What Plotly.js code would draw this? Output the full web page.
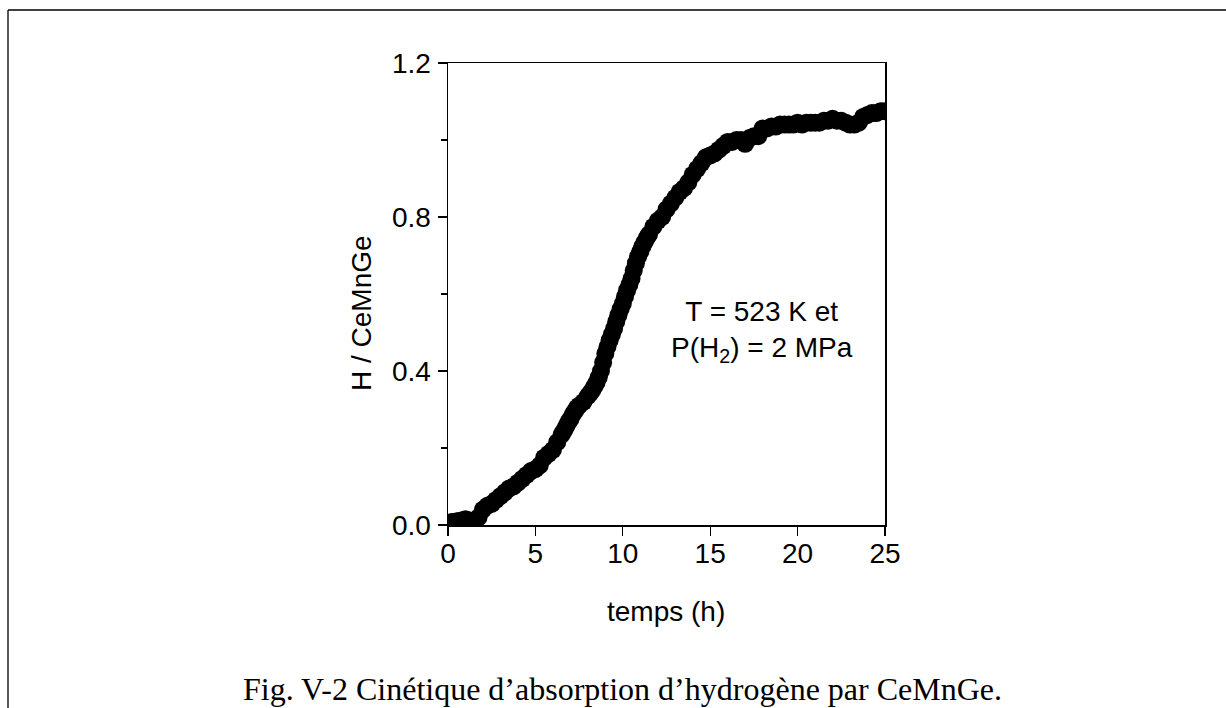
<!DOCTYPE html>
<html>
<head>
<meta charset="utf-8">
<script src="https://cdn.plot.ly/plotly-3.0.1.min.js"></script>
<style>
html,body{margin:0;padding:0;background:#fff;overflow:hidden;}
#chart{width:1226px;height:708px;}
</style>
</head>
<body>
<div id="chart"></div>
<script>
// time (h)
const timeH = [
  0, 0.25, 0.5, 0.75, 1, 1.25, 1.5, 1.75, 2, 2.25, 2.5, 2.75, 3, 3.25, 3.5, 3.75,
  4, 4.25, 4.5, 4.75, 5, 5.25, 5.5, 5.75, 6, 6.25, 6.5, 6.625, 6.75, 6.875, 7, 7.125, 7.25, 7.375, 7.5, 7.75,
  8, 8.125, 8.25, 8.375, 8.5, 8.625, 8.75, 8.875, 9, 9.125, 9.25, 9.375, 9.5, 9.625, 9.75, 9.875,
  10, 10.125, 10.25, 10.375, 10.5, 10.625, 10.75, 10.875, 11, 11.125, 11.25, 11.375, 11.5, 11.75,
  12, 12.25, 12.5, 12.75, 13, 13.25, 13.5, 13.75, 14, 14.25, 14.5, 14.75, 15, 15.25, 15.5, 15.75,
  16, 16.25, 16.5, 16.75, 17, 17.25, 17.5, 17.75, 18, 18.25, 18.5, 18.75, 19, 19.25, 19.5, 19.75,
  20, 20.25, 20.5, 20.75, 21, 21.25, 21.5, 21.75, 22, 22.25, 22.5, 22.75, 23, 23.25, 23.5, 23.75,
  24, 24.25, 24.5, 24.75, 25
];
// H / CeMnGe
const hPerFU = [
  0.005, 0.008, 0.010, 0.012, 0.015, 0.012, 0.008, 0.020, 0.040, 0.050, 0.055, 0.065, 0.075, 0.085, 0.095, 0.100,
  0.110, 0.120, 0.130, 0.140, 0.145, 0.155, 0.175, 0.185, 0.195, 0.215, 0.235, 0.244, 0.255, 0.266, 0.275, 0.286, 0.295, 0.304, 0.310, 0.320,
  0.335, 0.342, 0.350, 0.360, 0.370, 0.384, 0.400, 0.422, 0.445, 0.463, 0.480, 0.495, 0.510, 0.528, 0.545, 0.561,
  0.575, 0.593, 0.610, 0.624, 0.640, 0.661, 0.680, 0.697, 0.710, 0.724, 0.735, 0.746, 0.755, 0.775,
  0.790, 0.800, 0.820, 0.835, 0.850, 0.865, 0.875, 0.890, 0.910, 0.925, 0.940, 0.955, 0.960, 0.965, 0.975, 0.985,
  0.995, 0.995, 1.000, 1.000, 0.990, 1.005, 1.010, 1.010, 1.030, 1.030, 1.035, 1.035, 1.040, 1.040, 1.040, 1.040,
  1.045, 1.040, 1.045, 1.045, 1.045, 1.045, 1.050, 1.050, 1.055, 1.050, 1.050, 1.045, 1.040, 1.040, 1.045, 1.060,
  1.065, 1.070, 1.070, 1.075, 1.075
];
const xTicks = [0, 5, 10, 15, 20, 25];
const yTicks = [0.0, 0.4, 0.8, 1.2];
const yTickText = ["0.0", "0.4", "0.8", "1.2"];
const yMinorTicks = [0.2, 0.6, 1.0];
const xTitle = "temps (h)";
const yTitle = "H / CeMnGe";
const noteText = "T = 523 K et<br>P(H<sub>2</sub>) = 2 MPa";
const captionText = "Fig. V-2 Cinétique d’absorption d’hydrogène par CeMnGe.";

const W = 1226, H = 708;
const L = 448, R = 885, T = 63, B = 525;
const px2x = p => (p - L) / (R - L);
const px2y = p => (B - p) / (B - T);

const fam = "Liberation Sans, Arial, sans-serif";
const font = {family: fam, size: 28, color: "#000"};

const trace = {
  x: timeH, y: hPerFU, type: "scatter", mode: "markers",
  marker: {color: "#000", size: 18, line: {width: 0}},
  cliponaxis: true, hoverinfo: "skip", showlegend: false
};

const layout = {
  width: W, height: H,
  margin: {l: L, r: W - R, t: T, b: H - B, pad: 0},
  paper_bgcolor: "#fff", plot_bgcolor: "#fff",
  font: font,
  showlegend: false,
  xaxis: {
    range: [0, 25], tickvals: xTicks, ticktext: xTicks.map(String),
    ticks: "outside", ticklen: 9, tickwidth: 1.3, tickcolor: "#000",
    ticklabelstandoff: -6,
    showline: true, linewidth: 1.5, linecolor: "#000", mirror: true,
    showgrid: false, zeroline: false, tickfont: {family: fam, size: 28, color: "#000"}
  },
  yaxis: {
    range: [0, 1.2], tickvals: yTicks, ticktext: yTickText,
    ticks: "outside", ticklen: 9, tickwidth: 1.3, tickcolor: "#000",
    ticklabelstandoff: 1,
    minor: {tickvals: yMinorTicks, ticks: "outside", ticklen: 6, tickwidth: 1.3, tickcolor: "#000", showgrid: false},
    showline: true, linewidth: 1.5, linecolor: "#000", mirror: true,
    showgrid: false, zeroline: false, tickfont: {family: fam, size: 28, color: "#000"}
  },
  annotations: [
    {text: xTitle, xref: "paper", yref: "paper", x: px2x(666), y: px2y(611),
     xanchor: "center", yanchor: "middle", showarrow: false,
     font: {family: fam, size: 28, color: "#000"}},
    {text: yTitle, xref: "paper", yref: "paper", x: px2x(361), y: px2y(313),
     xanchor: "center", yanchor: "middle", showarrow: false, textangle: -90,
     font: {family: fam, size: 28, color: "#000"}},
    {text: noteText, xref: "paper", yref: "paper", x: px2x(762), y: px2y(331),
     xanchor: "center", yanchor: "middle", showarrow: false, align: "center",
     font: {family: fam, size: 28, color: "#000"}},
    {text: captionText, xref: "paper", yref: "paper", x: px2x(622), y: px2y(689),
     xanchor: "center", yanchor: "middle", showarrow: false,
     font: {family: "Liberation Serif, Times New Roman, serif", size: 32, color: "#000"}}
  ],
  shapes: [
    {type: "line", xref: "paper", yref: "paper", x0: px2x(8), x1: px2x(1240), y0: px2y(10), y1: px2y(10),
     line: {color: "#000", width: 1.3}},
    {type: "line", xref: "paper", yref: "paper", x0: px2x(8), x1: px2x(8), y0: px2y(10), y1: px2y(720),
     line: {color: "#000", width: 1.3}}
  ]
};

Plotly.newPlot("chart", [trace], layout, {staticPlot: true, displayModeBar: false});
</script>
</body>
</html>
